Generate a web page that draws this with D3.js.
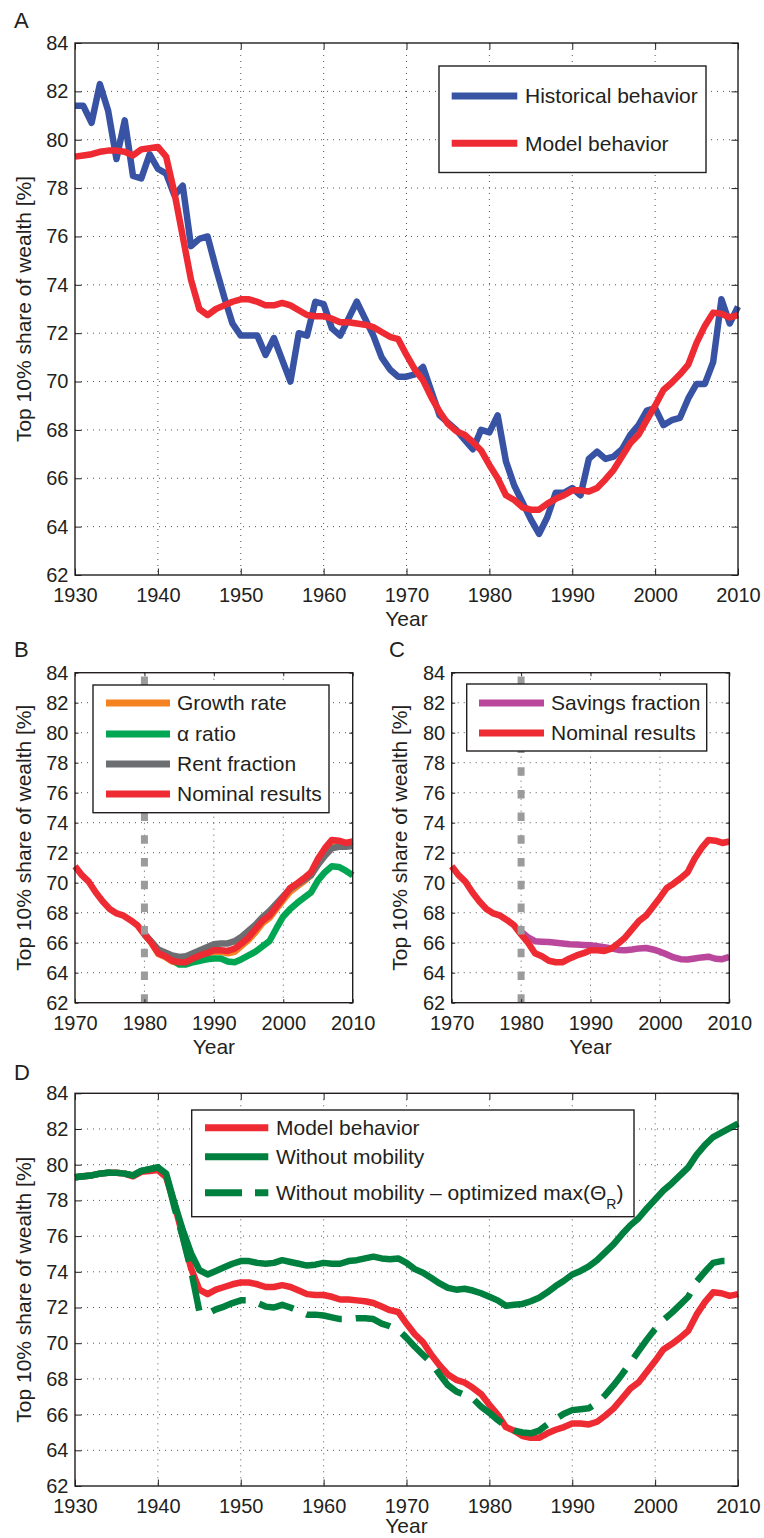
<!DOCTYPE html>
<html>
<head>
<meta charset="utf-8">
<script src="https://cdn.jsdelivr.net/npm/d3@7"></script>
<style>
  body { margin: 0; background: #fff; }
  svg text { font-family: "Liberation Sans", Arial, Helvetica, sans-serif; fill: #231f20; }
</style>
</head>
<body>
<svg id="fig" width="764" height="1538"></svg>
<script>
// ---- data (top 10% share of wealth, %) ----
var yTicks = [62, 64, 66, 68, 70, 72, 74, 76, 78, 80, 82, 84];
var longYears = [1930, 1940, 1950, 1960, 1970, 1980, 1990, 2000, 2010];
var shortYears = [1970, 1980, 1990, 2000, 2010];
var yLabel = "Top 10% share of wealth [%]";
var xLabel = "Year";

// 1930..2010
var historical = [81.4, 81.4, 80.7, 82.3, 81.2, 79.2, 80.8, 78.5, 78.4, 79.4,
  78.8, 78.6, 77.7, 78.1, 75.6, 75.9, 76.0, 74.7, 73.5, 72.4,
  71.9, 71.9, 71.9, 71.1, 71.8, 70.9, 70.0, 72.0, 71.9, 73.3,
  73.2, 72.2, 71.9, 72.6, 73.3, 72.6, 71.9, 71.0, 70.5, 70.2,
  70.2, 70.3, 70.6, 69.6, 68.6, 68.3, 68.0, 67.6, 67.2, 68.0,
  67.9, 68.6, 66.7, 65.7, 65.0, 64.3, 63.7, 64.4, 65.4, 65.4,
  65.6, 65.3, 66.8, 67.1, 66.8, 66.9, 67.2, 67.8, 68.2, 68.8,
  68.9, 68.2, 68.4, 68.5, 69.3, 69.9, 69.9, 70.8, 73.4, 72.4,
  73.1];

// 1930..2010 (also "Nominal results" in B and C)
var model = [79.3, 79.35, 79.4, 79.5, 79.55, 79.55, 79.5, 79.35, 79.6, 79.65,
  79.7, 79.3, 77.8, 76.0, 74.2, 73.0, 72.75, 73.0, 73.15, 73.3,
  73.4, 73.4, 73.3, 73.15, 73.15, 73.25, 73.15, 72.95, 72.75, 72.7,
  72.7, 72.6, 72.45, 72.45, 72.4, 72.35, 72.25, 72.05, 71.85, 71.75,
  71.1, 70.5, 70.05, 69.35, 68.75, 68.25, 67.95, 67.8, 67.5, 67.15,
  66.55, 66.0, 65.3, 65.1, 64.8, 64.7, 64.7, 64.95, 65.15, 65.3,
  65.5, 65.5, 65.45, 65.6, 65.95, 66.35, 66.9, 67.45, 67.8, 68.4,
  69.0, 69.65, 69.95, 70.3, 70.7, 71.6, 72.3, 72.85, 72.8, 72.65,
  72.75];

// 1980..2010
var growthRate = [66.55, 66.0, 65.25, 65.05, 64.75, 64.65, 64.65, 64.85, 65.05, 65.25,
  65.4, 65.4, 65.3, 65.4, 65.8, 66.2, 66.7, 67.3, 67.65, 68.25,
  68.85, 69.4, 69.75, 70.1, 70.5, 71.4, 72.1, 72.7, 72.75, 72.6, 72.65];
var alphaRatio = [66.55, 66.05, 65.5, 65.15, 64.85, 64.55, 64.55, 64.7, 64.8, 64.9,
  64.95, 64.95, 64.75, 64.7, 64.9, 65.15, 65.4, 65.75, 66.1, 66.95,
  67.75, 68.25, 68.65, 69.0, 69.35, 70.15, 70.7, 71.1, 71.05, 70.8, 70.5];
var rentFraction = [66.6, 66.05, 65.55, 65.35, 65.15, 65.05, 65.1, 65.3, 65.5, 65.7,
  65.9, 65.95, 65.95, 66.1, 66.4, 66.8, 67.2, 67.7, 68.1, 68.6,
  69.1, 69.6, 69.9, 70.2, 70.5, 71.2, 71.8, 72.3, 72.4, 72.4, 72.45];
var savingsFraction = [66.75, 66.35, 66.1, 66.07, 66.05, 66.0, 65.95, 65.9, 65.88, 65.85,
  65.83, 65.77, 65.7, 65.62, 65.52, 65.5, 65.55, 65.62, 65.65, 65.55,
  65.4, 65.22, 65.02, 64.9, 64.88, 64.95, 65.02, 65.07, 64.93, 64.9, 65.05];

// 1930..2010
var noMobility = [79.3, 79.35, 79.4, 79.5, 79.55, 79.55, 79.5, 79.4, 79.65, 79.75,
  79.85, 79.5, 77.85, 76.35, 75.05, 74.1, 73.85, 74.05, 74.25, 74.45,
  74.6, 74.6, 74.5, 74.45, 74.5, 74.65, 74.55, 74.45, 74.35, 74.4,
  74.5, 74.45, 74.45, 74.6, 74.65, 74.75, 74.85, 74.75, 74.7, 74.75,
  74.5, 74.15, 73.95, 73.65, 73.35, 73.1, 73.0, 73.05, 72.95, 72.8,
  72.6, 72.4, 72.1, 72.15, 72.2, 72.35, 72.55, 72.85, 73.2, 73.5,
  73.85, 74.05, 74.3, 74.65, 75.1, 75.55, 76.1, 76.6, 77.0, 77.55,
  78.05, 78.55, 78.95, 79.4, 79.85, 80.55, 81.1, 81.55, 81.8, 82.05,
  82.3];
// 1930..2009
var optimized = [79.3, 79.35, 79.4, 79.5, 79.55, 79.55, 79.5, 79.4, 79.65, 79.75,
  79.85, 79.45, 77.6, 75.95, 74.1, 71.8, 71.65, 71.9, 72.05, 72.25,
  72.4, 72.4, 72.25, 72.05, 72.0, 72.15, 72.0, 71.8, 71.6, 71.6,
  71.55, 71.45, 71.35, 71.35, 71.4, 71.4, 71.35, 71.1, 70.95, 70.75,
  70.3, 69.8, 69.35, 68.9, 68.25, 67.65, 67.3, 67.1, 66.9, 66.45,
  66.1, 65.7, 65.35, 65.1, 65.0, 64.95, 65.1, 65.45, 65.75, 66.05,
  66.25, 66.3, 66.35, 66.65, 67.1, 67.65, 68.25, 68.9, 69.55, 70.2,
  70.8, 71.3, 71.7, 72.15, 72.6, 73.45, 74.0, 74.5, 74.6, 74.6];

var blue = "#3953a4", red = "#ee2a32", orange = "#f58220", green = "#00a651",
    gray = "#6d6e71", purple = "#bb479c", darkGreen = "#00803f", dashGray = "#9b9b9b";

var svg = d3.select('#fig');

function makePanel(p) {
    var x = d3.scaleLinear()
        .domain([p.xTicks[0], p.xTicks[p.xTicks.length - 1]])
        .range([p.left, p.right]);
    var y = d3.scaleLinear()
        .domain([yTicks[0], yTicks[yTicks.length - 1]])
        .range([p.bottom, p.top]);
    var g = svg.append('g');

    // dotted grid
    g.selectAll('.vgrid').data(p.xTicks.slice(1, -1)).enter().append('line')
        .attr('x1', function (d) { return x(d); })
        .attr('x2', function (d) { return x(d); })
        .attr('y1', p.top).attr('y2', p.bottom)
        .attr('stroke', '#555').attr('stroke-width', 1).attr('stroke-dasharray', '1,5');
    g.selectAll('.hgrid').data(yTicks.slice(1, -1)).enter().append('line')
        .attr('y1', function (d) { return y(d); })
        .attr('y2', function (d) { return y(d); })
        .attr('x1', p.left).attr('x2', p.right)
        .attr('stroke', '#555').attr('stroke-width', 1).attr('stroke-dasharray', '1,5');

    var layer = g.append('g');

    // axes: MATLAB style box with inward ticks
    var axes = svg.append('g');
    var bottomAxis = d3.axisBottom(x).tickValues(p.xTicks).tickFormat(d3.format('d'))
        .tickSize(-p.tick).tickSizeOuter(0);
    var leftAxis = d3.axisLeft(y).tickValues(yTicks).tickSize(-p.tick).tickSizeOuter(0).tickPadding(6.5);
    var topAxis = d3.axisTop(x).tickValues(p.xTicks).tickFormat('').tickSize(-p.tick).tickSizeOuter(0);
    var rightAxis = d3.axisRight(y).tickValues(yTicks).tickFormat('').tickSize(-p.tick).tickSizeOuter(0);

    var gb = axes.append('g').attr('transform', 'translate(0,' + p.bottom + ')').call(bottomAxis);
    gb.selectAll('text').attr('y', 27).attr('dy', null);
    axes.append('g').attr('transform', 'translate(' + p.left + ',0)').call(leftAxis);
    axes.append('g').attr('transform', 'translate(0,' + p.top + ')').call(topAxis);
    axes.append('g').attr('transform', 'translate(' + p.right + ',0)').call(rightAxis);
    axes.selectAll('.domain').remove();
    axes.selectAll('.tick line').attr('stroke', '#231f20').attr('stroke-width', 1);
    axes.selectAll('.tick text').style('font-size', '20px').attr('fill', '#231f20');

    axes.append('rect')
        .attr('x', p.left).attr('y', p.top)
        .attr('width', p.right - p.left).attr('height', p.bottom - p.top)
        .attr('fill', 'none').attr('stroke', '#231f20').attr('stroke-width', 1.4);

    // labels
    svg.append('text')
        .attr('x', (p.left + p.right) / 2).attr('y', p.bottom + (p.yearDy || 51))
        .attr('text-anchor', 'middle').style('font-size', '21px')
        .text(xLabel);
    svg.append('text')
        .attr('transform', 'translate(' + p.yLabelX + ',' + (p.top + p.bottom) / 2 + ') rotate(-90)')
        .attr('text-anchor', 'middle').style('font-size', '21px')
        .text(yLabel);
    svg.append('text')
        .attr('x', p.letterX).attr('y', p.letterY)
        .style('font-size', '22px')
        .text(p.letter);

    return { x: x, y: y, layer: layer, p: p };
}

function addLine(panel, values, startYear, color, dash) {
    var line = d3.line()
        .x(function (d, i) { return panel.x(startYear + i); })
        .y(function (d) { return panel.y(d); });
    panel.layer.append('path')
        .datum(values)
        .attr('d', line)
        .attr('fill', 'none')
        .attr('stroke', color)
        .attr('stroke-width', 6.5)
        .attr('stroke-linejoin', 'round')
        .attr('stroke-dasharray', dash || null);
}

function addMarker1980(panel) {
    var p = panel.p;
    panel.layer.append('line')
        .attr('x1', panel.x(1980)).attr('x2', panel.x(1980))
        .attr('y1', p.bottom).attr('y2', p.top)
        .attr('stroke', dashGray).attr('stroke-width', 7)
        .attr('stroke-dasharray', '8.5,14.2');
}

function addLegend(box, rows) {
    var lg = svg.append('g');
    lg.append('rect')
        .attr('x', box.x0).attr('y', box.y0)
        .attr('width', box.x1 - box.x0).attr('height', box.y1 - box.y0)
        .attr('fill', '#fff').attr('stroke', '#231f20').attr('stroke-width', 1.4);
    var item = lg.selectAll('.item').data(rows).enter().append('g')
        .attr('transform', function (d, i) { return 'translate(0,' + box.rowsY[i] + ')'; });
    item.append('line')
        .attr('x1', box.lx0).attr('x2', box.lx1)
        .attr('stroke', function (d) { return d.color; })
        .attr('stroke-width', 7)
        .attr('stroke-dasharray', function (d) { return d.dash || null; });
    item.append('text')
        .attr('x', box.tx).attr('dy', '0.35em')
        .style('font-size', '21px')
        .each(function (d) {
            var t = d3.select(this);
            t.append('tspan').text(d.label);
            if (d.sub) {
                t.append('tspan').attr('dy', 9).style('font-size', '14px').text(d.sub);
                t.append('tspan').attr('dy', -9).text(d.after);
            }
        });
}

// ---- Panel A ----
var pA = makePanel({ left: 75, right: 738, top: 43, bottom: 575, xTicks: longYears, tick: 6.5,
    yLabelX: 31, letter: 'A', letterX: 14, letterY: 28 });
addLine(pA, historical, 1930, blue);
addLine(pA, model, 1930, red);
addLegend({ x0: 439, x1: 706, y0: 66, y1: 172.5, lx0: 451.7, lx1: 517.3, tx: 525, rowsY: [96, 143.3] },
    [{ label: 'Historical behavior', color: blue }, { label: 'Model behavior', color: red }]);

// ---- Panel B ----
var pB = makePanel({ left: 75, right: 352.7, top: 672.7, bottom: 1002.7, xTicks: shortYears, tick: 3.5,
    yLabelX: 31, letter: 'B', letterX: 14, letterY: 657 });
addLine(pB, model.slice(40, 51), 1970, red);
addLine(pB, growthRate, 1980, orange);
addLine(pB, alphaRatio, 1980, green);
addLine(pB, rentFraction, 1980, gray);
addLine(pB, model.slice(50), 1980, red);
addMarker1980(pB);
addLegend({ x0: 93, x1: 329, y0: 685, y1: 812.7, lx0: 106, lx1: 170, tx: 177, rowsY: [703, 734, 764, 794] },
    [{ label: 'Growth rate', color: orange }, { label: '\u03b1 ratio', color: green },
     { label: 'Rent fraction', color: gray }, { label: 'Nominal results', color: red }]);

// ---- Panel C ----
var pC = makePanel({ left: 451.7, right: 729.3, top: 672.7, bottom: 1002.7, xTicks: shortYears, tick: 3.5,
    yLabelX: 407, letter: 'C', letterX: 389, letterY: 657 });
addLine(pC, savingsFraction, 1980, purple);
addLine(pC, model.slice(40), 1970, red);
addMarker1980(pC);
addLegend({ x0: 466.7, x1: 706.7, y0: 684, y1: 751, lx0: 479, lx1: 544, tx: 551, rowsY: [703, 733] },
    [{ label: 'Savings fraction', color: purple }, { label: 'Nominal results', color: red }]);

// ---- Panel D ----
var pD = makePanel({ left: 75, right: 738, top: 1093.3, bottom: 1486, xTicks: longYears, tick: 6.5,
    yLabelX: 31, letter: 'D', letterX: 14, letterY: 1080, yearDy: 47 });
addLine(pD, model, 1930, red);
addLine(pD, noMobility, 1930, darkGreen);
addLine(pD, optimized, 1930, darkGreen, '36,14');
addLegend({ x0: 191.7, x1: 634, y0: 1110, y1: 1216.7, lx0: 205, lx1: 268.3, tx: 276, rowsY: [1127.7, 1156.7, 1192.7] },
    [{ label: 'Model behavior', color: red }, { label: 'Without mobility', color: darkGreen },
     { label: 'Without mobility \u2013 optimized max(\u0398', sub: 'R', after: ')', color: darkGreen, dash: '37,13' }]);
</script>
</body>
</html>
